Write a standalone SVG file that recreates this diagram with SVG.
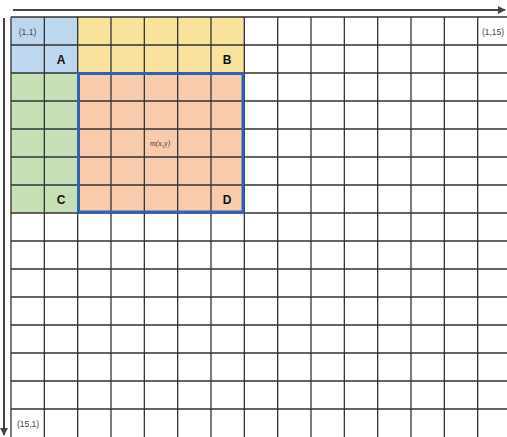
<svg xmlns="http://www.w3.org/2000/svg" width="507" height="437" viewBox="0 0 507 437">
<style>
.grid{stroke:#333;stroke-width:1.3;fill:none}
.lbl{font-family:"Liberation Sans",Arial,sans-serif;font-size:12px;font-weight:bold;fill:#111;text-anchor:middle}
.coord{font-family:"Liberation Sans",Arial,sans-serif;font-size:8.5px;fill:#444;text-anchor:middle}
.axis{stroke:#444;stroke-width:2;fill:none}
</style>
<defs>
<marker id="ah" viewBox="0 0 10 10" refX="9" refY="5" markerWidth="4" markerHeight="4" orient="auto" markerUnits="strokeWidth">
<path d="M0,0 L10,5 L0,10 z" fill="#444"/>
</marker>
</defs>
<rect width="507" height="437" fill="#fff"/>
<g id="regionA">
<rect x="11" y="17" width="66.67" height="56" fill="#BDD7EE"/>
</g>
<g id="regionB">
<rect x="77.67" y="17" width="166.67" height="56" fill="#F9E29C"/>
</g>
<g id="regionC">
<rect x="11" y="73" width="66.67" height="140" fill="#C5E0B4"/>
</g>
<g id="regionD">
<rect x="77.67" y="73" width="166.67" height="140" fill="#F8CBAD"/>
</g>
<g id="grid">
<path class="grid" d="M11,17V437M44.33,17V437M77.67,17V437M111,17V437M144.33,17V437M177.67,17V437M211,17V437M244.33,17V437M277.67,17V437M311,17V437M344.33,17V437M377.67,17V437M411,17V437M444.33,17V437M477.67,17V437M11,17H507M11,45H507M11,73H507M11,101H507M11,129H507M11,157H507M11,185H507M11,213H507M11,241H507M11,269H507M11,297H507M11,325H507M11,353H507M11,381H507M11,409H507"/>
</g>
<g id="window">
<rect x="78.5" y="73.5" width="164.5" height="138.5" fill="none" stroke="#2E62B4" stroke-width="3"/>
</g>
<g id="labels">
<text class="coord" x="27.5" y="35">(1,1)</text>
<text class="coord" x="493" y="35">(1,15)</text>
<text class="coord" x="28" y="427">(15,1)</text>
<text class="lbl" x="61" y="64">A</text>
<text class="lbl" x="227" y="64">B</text>
<text class="lbl" x="61" y="204">C</text>
<text class="lbl" x="227" y="204">D</text>
<text x="160" y="146" font-family="'Liberation Serif','Times New Roman',serif" font-style="italic" font-size="8" fill="#444" text-anchor="middle">m(x,y)</text>
</g>
<g id="connectors">
<line class="axis" x1="13" y1="10" x2="505" y2="10" marker-end="url(#ah)"/>
<line class="axis" x1="4" y1="18" x2="4" y2="435" marker-end="url(#ah)"/>
</g>
</svg>
